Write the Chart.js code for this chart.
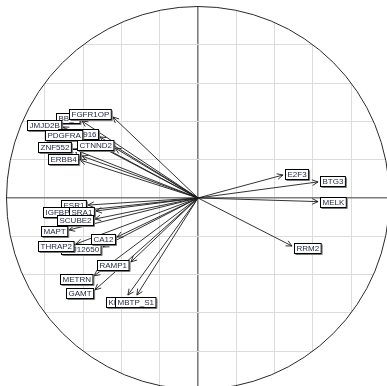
<!DOCTYPE html>
<html>
<head>
<meta charset="utf-8">
<style>
  html, body { margin: 0; padding: 0; background: #ffffff; }
  #wrap { width: 387px; height: 386px; }
</style>
<script src="https://cdn.jsdelivr.net/npm/chart.js@4/dist/chart.umd.min.js"></script>
</head>
<body>
<div id="wrap"><canvas id="pca" width="387" height="386"></canvas></div>
<script>
// Variable loadings on the first two principal components (drawing order: first = bottom)
const variables = [
  "BB_1", "FGFR1OP", "JMJD2B", "KIAA0916", "PDGFRA", "TFF1", "ZNF552", "CTNND2", "ERBB4",
  "ESR1", "IGFBP4", "SRA1", "SCUBE2", "MAPT", "FLJ12650", "THRAP2", "CA12", "RAMP1",
  "METRN", "GAMT", "KIAA1324", "MBTP_S1",
  "E2F3", "BTG3", "MELK", "RRM2"
];
const pc1 = [
  -0.606, -0.444, -0.705, -0.512, -0.595, -0.606, -0.653, -0.433, -0.616,
  -0.574, -0.627, -0.533, -0.538, -0.674, -0.496, -0.637, -0.423, -0.350,
  -0.543, -0.538, -0.366, -0.319,
   0.444,  0.627,  0.627,  0.491
];
const pc2 = [
   0.402,  0.423,  0.371,  0.319,  0.319,  0.219,  0.256,  0.261,  0.198,
  -0.037, -0.068, -0.068, -0.110, -0.167, -0.256, -0.240, -0.204, -0.334,
  -0.407, -0.480, -0.507, -0.507,
   0.120,  0.084, -0.019, -0.251
];
// Grid tick values and the correlation circle radius
const gridTicks = [-1.0, -0.8, -0.6, -0.4, -0.2, 0, 0.2, 0.4, 0.6, 0.8, 1.0];
const circleRadius = 1;

const datasets = variables.map((name, i) => ({
  label: name,
  data: [{ x: 0, y: 0 }, { x: pc1[i], y: pc2[i] }],
  showLine: true,
  borderColor: '#1c1c1c',
  borderWidth: 0.9,
  pointRadius: 0,
  pointHoverRadius: 0,
  fill: false
}));

function circlePath(chart) {
  const xs = chart.scales.x, ys = chart.scales.y;
  const cx = xs.getPixelForValue(0), cy = ys.getPixelForValue(0);
  const rx = xs.getPixelForValue(circleRadius) - cx;
  const ry = cy - ys.getPixelForValue(circleRadius);
  const ctx = chart.ctx;
  ctx.beginPath();
  ctx.ellipse(cx, cy, rx, ry, 0, 0, Math.PI * 2);
}

// Keep the grid inside the correlation circle
const circleClip = {
  id: 'circleClip',
  beforeDraw(chart) {
    chart.ctx.save();
    circlePath(chart);
    chart.ctx.clip();
  },
  beforeDatasetsDraw(chart) {
    chart.ctx.restore();
    const ctx = chart.ctx;
    ctx.save();
    circlePath(chart);
    ctx.strokeStyle = '#2a2a2a';
    ctx.lineWidth = 1;
    ctx.stroke();
    ctx.restore();
  }
};

// Arrowheads and boxed variable names
const arrowLabels = {
  id: 'arrowLabels',
  afterDatasetsDraw(chart) {
    const ctx = chart.ctx;
    const xs = chart.scales.x, ys = chart.scales.y;
    const ox = xs.getPixelForValue(0), oy = ys.getPixelForValue(0);
    ctx.save();
    // arrowheads
    ctx.strokeStyle = '#1c1c1c';
    ctx.lineWidth = 0.9;
    variables.forEach((name, i) => {
      const tx = xs.getPixelForValue(pc1[i]), ty = ys.getPixelForValue(pc2[i]);
      const ang = Math.atan2(ty - oy, tx - ox);
      const len = 6.5, spread = 0.45;
      ctx.beginPath();
      ctx.moveTo(tx - len * Math.cos(ang - spread), ty - len * Math.sin(ang - spread));
      ctx.lineTo(tx, ty);
      ctx.lineTo(tx - len * Math.cos(ang + spread), ty - len * Math.sin(ang + spread));
      ctx.stroke();
    });
    // labels
    ctx.font = '8px "Liberation Sans", Arial, sans-serif';
    ctx.textBaseline = 'middle';
    ctx.textAlign = 'center';
    variables.forEach((name, i) => {
      const tx = xs.getPixelForValue(pc1[i]), ty = ys.getPixelForValue(pc2[i]);
      const dx = tx - ox, dy = ty - oy;
      const d = Math.hypot(dx, dy) || 1;
      const ux = dx / d, uy = dy / d;
      const w = ctx.measureText(name).width + 4;
      const h = 10;
      const gap = 2;
      let cx, cy;
      if (Math.abs(ux) >= 0.6) {
        cx = tx + Math.sign(ux) * (w / 2 + gap);
        cy = ty + uy * h / 2;
      } else {
        cx = tx + ux * w * 0.1;
        cy = ty + Math.sign(uy) * (h / 2 + gap);
      }
      const x0 = Math.round(cx - w / 2) + 0.5, y0 = Math.round(cy - h / 2) + 0.5;
      ctx.fillStyle = '#ffffff';
      ctx.fillRect(x0, y0, w, h);
      ctx.strokeStyle = '#7a7a7a';
      ctx.lineWidth = 1;
      ctx.beginPath();
      ctx.moveTo(x0 + w + 1, y0 + 1);
      ctx.lineTo(x0 + w + 1, y0 + h + 1);
      ctx.lineTo(x0 + 1, y0 + h + 1);
      ctx.stroke();
      ctx.strokeStyle = '#000000';
      ctx.strokeRect(x0, y0, w, h);
      ctx.fillStyle = '#1b2540';
      ctx.fillText(name, x0 + w / 2, y0 + h / 2 + 0.5);
    });
    ctx.restore();
  }
};

const gridOpts = {
  drawTicks: false,
  color: (c) => (c.tick && c.tick.value === 0) ? '#7d7d7d' : '#dcdcdc',
  lineWidth: (c) => (c.tick && c.tick.value === 0) ? 1.6 : 1
};

new Chart(document.getElementById('pca'), {
  type: 'scatter',
  data: { datasets },
  options: {
    responsive: false,
    animation: false,
    events: [],
    layout: { padding: 0 },
    plugins: { legend: { display: false }, tooltip: { enabled: false } },
    scales: {
      x: {
        type: 'linear', min: -1.034, max: 0.987,
        border: { display: false },
        ticks: { display: false },
        grid: gridOpts,
        afterBuildTicks: (s) => { s.ticks = gridTicks.filter(v => v >= s.min && v <= s.max).map(v => ({ value: v })); }
      },
      y: {
        type: 'linear', min: -0.982, max: 1.034,
        border: { display: false },
        ticks: { display: false },
        grid: gridOpts,
        afterBuildTicks: (s) => { s.ticks = gridTicks.filter(v => v >= s.min && v <= s.max).map(v => ({ value: v })); }
      }
    }
  },
  plugins: [circleClip, arrowLabels]
});
</script>
</body>
</html>
